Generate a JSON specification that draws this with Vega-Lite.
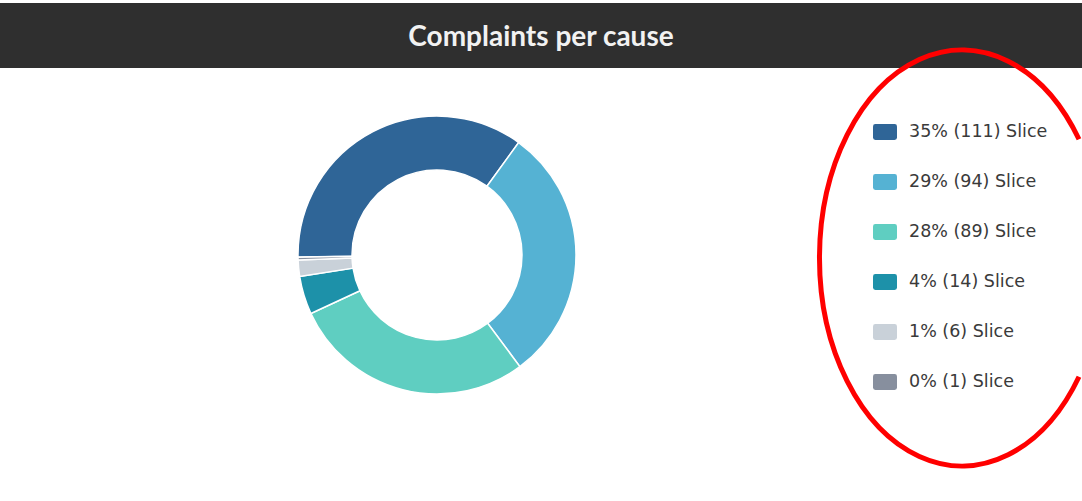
{
  "$schema": "https://vega.github.io/schema/vega-lite/v6.json",
  "background": "#ffffff",
  "padding": {"top": 3, "left": 0, "right": 0, "bottom": 0},
  "config": {"view": {"stroke": null}, "concat": {"spacing": 0}},
  "spacing": 0,
  "bounds": "flush",
  "resolve": {"scale": {"color": "independent"}, "legend": {"color": "independent"}},
  "vconcat": [
    {
      "width": 1082,
      "height": 65,
      "view": {"fill": "#2f2f2f", "stroke": null},
      "data": {"values": [{"title": "Complaints per cause"}]},
      "mark": {"type": "text", "font": "Lato", "fontWeight": "bold", "fontSize": 28, "color": "#f2f2f2", "align": "center", "baseline": "middle", "dy": 2},
      "encoding": {"text": {"field": "title", "type": "nominal"}}
    },
    {
      "spacing": 0,
      "bounds": "flush",
      "resolve": {"scale": {"color": "independent"}, "legend": {"color": "independent"}},
      "hconcat": [
        {
          "width": 874,
          "height": 374,
          "data": {"values": [
            {"cause": "35% (111) Slice", "count": 111},
            {"cause": "29% (94) Slice", "count": 94},
            {"cause": "28% (89) Slice", "count": 89},
            {"cause": "4% (14) Slice", "count": 14},
            {"cause": "1% (6) Slice", "count": 6},
            {"cause": "0% (1) Slice", "count": 1}
          ]},
          "mark": {"type": "arc", "outerRadius": 139, "innerRadius": 85, "stroke": "#ffffff", "strokeWidth": 1.5},
          "encoding": {
            "theta": {"field": "count", "type": "quantitative", "stack": true, "scale": {"range": [-1.586, 4.697]}},
            "order": {"field": "count", "sort": "descending"},
            "color": {
              "field": "cause", "type": "nominal", "sort": null,
              "scale": {
                "domain": ["35% (111) Slice", "29% (94) Slice", "28% (89) Slice", "4% (14) Slice", "1% (6) Slice", "0% (1) Slice"],
                "range": ["#2f6597", "#55b2d3", "#5fcec1", "#1d91a9", "#c9d1d9", "#878f9e"]
              },
              "legend": {
                "orient": "none", "legendX": 873, "legendY": 52, "title": null, "padding": 0,
                "symbolType": "M -0.8 -0.667 L 0.8 -0.667 Q 1 -0.667 1 -0.467 L 1 0.467 Q 1 0.667 0.8 0.667 L -0.8 0.667 Q -1 0.667 -1 0.467 L -1 -0.467 Q -1 -0.667 -0.8 -0.667 Z",
                "symbolSize": 576, "symbolStrokeWidth": 0, "symbolOpacity": 1,
                "labelFont": "DejaVu Sans", "labelFontSize": 17.5, "labelColor": "#3a3a3a", "labelOffset": 12, "labelLimit": 300,
                "rowPadding": 29
              }
            }
          }
        },
        {
          "width": 208,
          "height": 380,
          "data": {"values": [{"annotation": "highlight"}]},
          "mark": {
            "type": "point", "filled": false, "stroke": "#ff0000", "strokeWidth": 5, "opacity": 1, "size": 40000,
            "shape": "M 1.01 -1.187 A 1.425 2.08 0 1 0 1.01 1.187"
          },
          "encoding": {"detail": {"field": "annotation", "type": "nominal"}}
        }
      ]
    }
  ]
}
